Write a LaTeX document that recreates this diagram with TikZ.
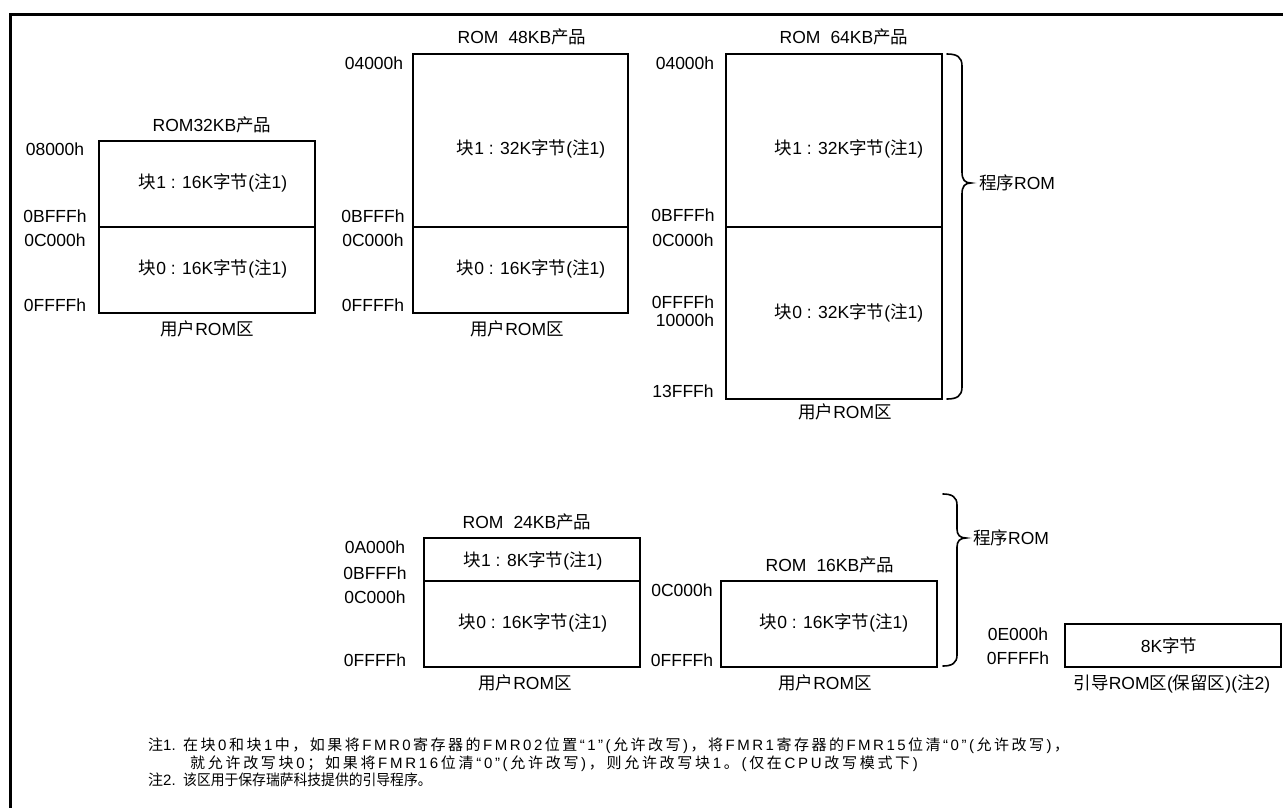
\documentclass[tikz,border=0pt]{standalone}
\usepackage{fontspec}
\usepackage{graphicx}
\setmainfont{Liberation Sans}
\newfontfamily\cjk{Noto Sans CJK SC}
\newcommand\zh[1]{{\cjk #1}}
\newlength\lsp
\def\zlloop#1{\ifx#1\relax\else#1\kern\lsp\expandafter\zlloop\fi}
\newcommand\zl[1]{\zlloop#1\relax}
\def\znloop#1{\ifx#1\relax\else{\cjk #1}\kern\lsp\expandafter\znloop\fi}
\newcommand\zn[1]{\znloop#1\relax}
\begin{document}
\begin{tikzpicture}[x=1pt,y=-1pt,
  lbl/.style={font=\fontsize{17.5}{20}\selectfont, inner sep=0pt, text height=12.5pt, text depth=0pt},
  mem/.style={draw, line width=1.5pt, inner sep=0pt, outer sep=0pt},
  divl/.style={line width=1.5pt},
  brc/.style={line width=1.6pt, line cap=round},
  frame/.style={line width=3pt},
  note/.style={font=\fontsize{15}{17}\selectfont, anchor=west, inner sep=0pt, text height=11pt, text depth=0pt}]
\useasboundingbox (0,0) rectangle (1283,808);
\fill[white] (0,0) rectangle (1283,808);
% frame
\draw[frame] (10,808) -- (10,14.5) -- (1283,14.5);

% ---------- ROM 32KB ----------
\node[mem, minimum width=216pt, minimum height=172pt] (A) at (207,227) {};
\draw[divl] (99,227) -- (315,227);
\node[lbl] (At) at (212,125) {ROM32KB\zh{产品}};
\node[lbl] (Aa1) at (55,149) {08000h};
\node[lbl] (Aa2) at (55,216) {0BFFFh};
\node[lbl] (Aa3) at (55,240) {0C000h};
\node[lbl] (Aa4) at (55,305) {0FFFFh};
\node[lbl] (Ab1) at (213,182) {\zh{块}1 : 16K\zh{字节}(\zh{注}1)};
\node[lbl] (Ab0) at (213,268) {\zh{块}0 : 16K\zh{字节}(\zh{注}1)};
\node[lbl] (Au) at (207,329) {\zh{用户}ROM\zh{区}};

% ---------- ROM 48KB ----------
\node[mem, minimum width=215pt, minimum height=259pt] (B) at (520.5,183.5) {};
\draw[divl] (413,227) -- (628,227);
\node[lbl] (Bt) at (522,37) {ROM\hspace{10pt}48KB\zh{产品}};
\node[lbl] (Ba1) at (374,63) {04000h};
\node[lbl] (Ba2) at (373,216) {0BFFFh};
\node[lbl] (Ba3) at (373,240) {0C000h};
\node[lbl] (Ba4) at (373,305) {0FFFFh};
\node[lbl] (Bb1) at (531,148) {\zh{块}1 : 32K\zh{字节}(\zh{注}1)};
\node[lbl] (Bb0) at (531,268) {\zh{块}0 : 16K\zh{字节}(\zh{注}1)};
\node[lbl] (Bu) at (517,329) {\zh{用户}ROM\zh{区}};

% ---------- ROM 64KB ----------
\node[mem, minimum width=216pt, minimum height=345pt] (C) at (834,226.5) {};
\draw[divl] (726,227) -- (942,227);
\node[lbl] (Ct) at (844,37) {ROM\hspace{10pt}64KB\zh{产品}};
\node[lbl] (Ca1) at (685,63) {04000h};
\node[lbl] (Ca2) at (683,215) {0BFFFh};
\node[lbl] (Ca3) at (683,240) {0C000h};
\node[lbl] (Ca4) at (683,302) {0FFFFh};
\node[lbl] (Ca5) at (685,320) {10000h};
\node[lbl] (Ca6) at (683,391) {13FFFh};
\node[lbl] (Cb1) at (849,148) {\zh{块}1 : 32K\zh{字节}(\zh{注}1)};
\node[lbl] (Cb0) at (849,312) {\zh{块}0 : 32K\zh{字节}(\zh{注}1)};
\node[lbl] (Cu) at (845,412) {\zh{用户}ROM\zh{区}};
\draw[brc] (947,54) .. controls (957,54) and (962,57) .. (962,66) -- (962,172)
  .. controls (962,180) and (965,183) .. (971,183)
  .. controls (965,183) and (962,186) .. (962,194) -- (962,387)
  .. controls (962,396) and (957,399) .. (947,399);
\node[lbl, anchor=west] (P1) at (979,183) {\zh{程序}ROM};

% ---------- ROM 24KB ----------
\node[mem, minimum width=216pt, minimum height=129pt] (D) at (532,602.5) {};
\draw[divl] (424,581) -- (640,581);
\node[lbl] (Dt) at (527,522) {ROM\hspace{10pt}24KB\zh{产品}};
\node[lbl] (Da1) at (375,547) {0A000h};
\node[lbl] (Da2) at (375,573) {0BFFFh};
\node[lbl] (Da3) at (375,597) {0C000h};
\node[lbl] (Da4) at (375,660) {0FFFFh};
\node[lbl] (Db1) at (533,560) {\zh{块}1 : 8K\zh{字节}(\zh{注}1)};
\node[lbl] (Db0) at (533,622) {\zh{块}0 : 16K\zh{字节}(\zh{注}1)};
\node[lbl] (Du) at (525,683) {\zh{用户}ROM\zh{区}};

% ---------- ROM 16KB ----------
\node[mem, minimum width=216pt, minimum height=86pt] (E) at (829,624) {};
\node[lbl] (Et) at (830,565) {ROM\hspace{10pt}16KB\zh{产品}};
\node[lbl] (Ea1) at (682,590) {0C000h};
\node[lbl] (Ea2) at (682,660) {0FFFFh};
\node[lbl] (Eb0) at (834,622) {\zh{块}0 : 16K\zh{字节}(\zh{注}1)};
\node[lbl] (Eu) at (825,683) {\zh{用户}ROM\zh{区}};
\draw[brc] (943,494) .. controls (952,494) and (957,497) .. (957,505) -- (957,529)
  .. controls (957,535) and (960,538) .. (966,538)
  .. controls (960,538) and (957,541) .. (957,547) -- (957,655)
  .. controls (957,663) and (952,666) .. (943,666);
\node[lbl, anchor=west] (P2) at (973,538) {\zh{程序}ROM};

% ---------- Boot ROM ----------
\node[mem, minimum width=216pt, minimum height=43pt] (F) at (1173,645.5) {};
\node[lbl] (Fb) at (1169,646) {8K\zh{字节}};
\node[lbl] (Fa1) at (1018,634) {0E000h};
\node[lbl] (Fa2) at (1018,658) {0FFFFh};
\node[lbl] (Fu) at (1172,683) {\zh{引导}ROM\zh{区}(\zh{保留区})(\zh{注}2)};

% ---------- Notes ----------
\node[note] (N1) at (148,745) {\zh{注}1.};
\node[note] (N1a) at (183,745) {\setlength\lsp{2.5pt}\zn{在块}\zl{0}\zn{和块}\zl{1}\zn{中，如果将}\zl{FMR0}\zn{寄存器的}\zl{FMR02}\zn{位置}\zl{“1”(}\zn{允许改写}\zl{)}\zn{，将}\zl{FMR1}\zn{寄存器的}\zl{FMR15}\zn{位清}\zl{“0”(}\zn{允许改写}\zl{)}\zn{，}};
\node[note] (N1b) at (190,763) {\setlength\lsp{2.7pt}\zn{就允许改写块}\zl{0}\zn{；如果将}\zl{FMR16}\zn{位清}\zl{“0”(}\zn{允许改写}\zl{)}\zn{，则允许改写块}\zl{1}\zn{。}\zl{(}\zn{仅在}\zl{CPU}\zn{改写模式下}\zl{)}};
\node[note] (N2) at (148,780) {\zh{注}2.};
\node[note] (N2a) at (183,780) {\scalebox{0.92}[1]{\zh{该区用于保存瑞萨科技提供的引导程序。}}};
\end{tikzpicture}
\end{document}
